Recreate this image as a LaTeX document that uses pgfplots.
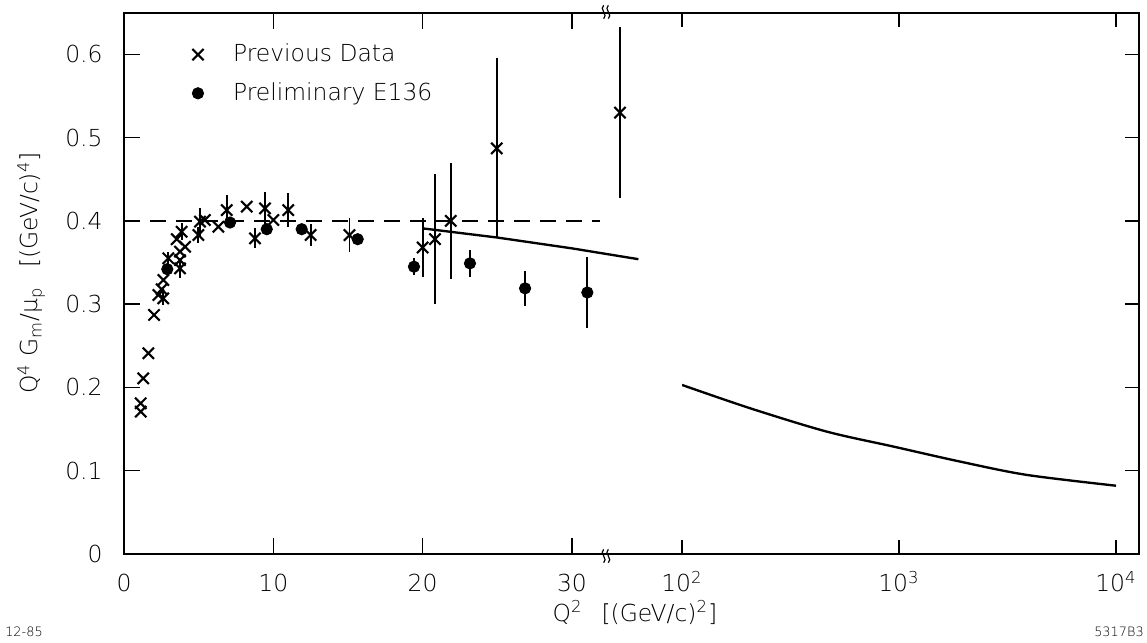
\documentclass[border=0pt]{standalone}
\usepackage{fontspec}
\setmainfont{DejaVu Sans ExtraLight}
\usepackage{pgfplots}
\pgfplotsset{compat=1.18}
\usepackage{pgfplotstable}

% previous data: Q^2, Q^4 Gm/mu_p, error
\pgfplotstableread{
x y ey
1.12 0.171 0
1.12 0.181 0
1.29 0.211 0
1.63 0.241 0
2.01 0.287 0
2.30 0.311 0
2.63 0.307 0.008
2.52 0.318 0
2.63 0.329 0
2.97 0.355 0.008
3.53 0.378 0
3.86 0.387 0.010
3.75 0.363 0
3.75 0.353 0
3.75 0.343 0.012
4.09 0.369 0
4.98 0.383 0.010
5.09 0.399 0.017
5.42 0.401 0
6.32 0.393 0
6.88 0.413 0.018
8.22 0.417 0
8.77 0.379 0.012
9.44 0.415 0.020
10.0 0.401 0
11.0 0.413 0.020
12.5 0.383 0.013
15.1 0.383 0.020
20.0 0.368 0.035
20.83 0.378 0.078
21.88 0.400 0.070
24.96 0.487 0.108
33.22 0.530 0.103
}\prevdata

% preliminary E136
\pgfplotstableread{
x y ey
2.90 0.342 0
7.10 0.398 0
9.56 0.390 0
11.9 0.390 0
15.65 0.378 0
19.42 0.345 0.010
23.17 0.349 0.016
26.86 0.319 0.021
31.03 0.314 0.043
}\esixdata

\pgfplotsset{
  brk/.style={
    scale only axis,
    height=81.2mm,
    ymin=0, ymax=0.65,
    axis line style={draw=none},
    tick align=inside,
    major tick length=2.4mm,
    every tick/.style={black, line width=0.6pt},
    ytick={0,0.1,0.2,0.3,0.4,0.5,0.6},
    tick label style={font=\fontsize{10}{12}\selectfont},
    xticklabel style={anchor=base, inner sep=0pt, yshift=-5.65mm},
  },
}

% axis break: two small wiggles centred at #1
\newcommand\brkmark[1]{%
  \foreach \dx in {-0.35mm,0.35mm}{
    \draw[line width=0.5pt] ($(#1)+(\dx,-1mm)$)
      .. controls +(0.75mm,0.45mm) and +(-0.75mm,-0.45mm) .. ($(#1)+(\dx,1mm)$);
  }%
}
\usetikzlibrary{calc}

\begin{document}
\begin{tikzpicture}
\path[use as bounding box] (0,0) rectangle (172.05mm,96.3mm);

\begin{axis}[brk, name=L,
  at={(18.6mm,13.2mm)}, anchor=south west,
  width=83.7mm,
  xmin=0, xmax=37.37,
  xtick={0,10,20,30}, xticklabels={0,10,20,30},
  ytick pos=left,
  yticklabels={0,0.1,0.2,0.3,0.4,0.5,0.6},
  yticklabel style={anchor=east, inner sep=0pt, xshift=-3.15mm},
  legend style={draw=none, fill=none, at={(axis description cs:0.0824,0.8868)},
    anchor=west, row sep=1.2mm, font=\fontsize{10}{12}\selectfont},
  legend cell align=left,
  legend image code/.code={\draw[#1] plot coordinates {(3mm,0mm)}; \path (0mm,0mm) (7.5mm,0mm);},
]
\addplot[black, only marks, mark=x, mark size=3.4pt, mark options={line width=0.9pt},
  error bars/.cd, y dir=both, y explicit, error mark=none,
  error bar style={line width=0.75pt}]
  table[x=x, y=y, y error=ey] {\prevdata};
\addlegendentry{Previous Data}
\addplot[black, only marks, mark=*, mark size=2.4pt,
  error bars/.cd, y dir=both, y explicit, error mark=none,
  error bar style={line width=0.75pt}]
  table[x=x, y=y, y error=ey] {\esixdata};
\addlegendentry{Preliminary E136}
\addplot[black, line width=0.8pt, dash pattern=on 2.4mm off 1.5mm, forget plot]
  coordinates {(0,0.4) (31.9,0.4)};
\addplot[black, line width=1pt, forget plot]
  coordinates {(20.0,0.391) (25,0.380) (30,0.367) (34.45,0.354)};
\end{axis}

\begin{axis}[brk, name=R,
  at={(102.3mm,13.2mm)}, anchor=south west,
  width=68.55mm,
  xmode=log, xmin=100, xmax=12760,
  xtick={100,1000,10000},
  xticklabels={10\textsuperscript{2},10\textsuperscript{3},10\textsuperscript{4}},
  xminorticks=false,
  ytick pos=right, yticklabels={},
  major tick length=2.1mm,
]
\addplot[black, line width=1pt, smooth]
  coordinates {(100,0.203) (206,0.175) (464,0.147) (942,0.129) (1910,0.111) (3873,0.095) (10000,0.082)};
\end{axis}

\draw[line width=0.85pt] (L.south west) rectangle (R.north east);
\brkmark{90.9mm,12.9mm}
\brkmark{90.9mm,94.5mm}

\node[rotate=90, anchor=base, font=\fontsize{10}{12}\selectfont] at (5.7mm,55.35mm)
  {Q\textsuperscript{4} G\textsubscript{m}/μ\textsubscript{p}\hspace{0.8em}[(GeV/c)\textsuperscript{4}]};
\node[anchor=base, font=\fontsize{10}{12}\selectfont] at (95.25mm,3.15mm)
  {Q\textsuperscript{2}\hspace{0.8em}[(GeV/c)\textsuperscript{2}]};
\node[font=\fontsize{5.5}{6}\selectfont] at (3.6mm,1.5mm) {12-85};
\node[font=\fontsize{5.5}{6}\selectfont] at (167.85mm,1.5mm) {5317B3};
\end{tikzpicture}
\end{document}
